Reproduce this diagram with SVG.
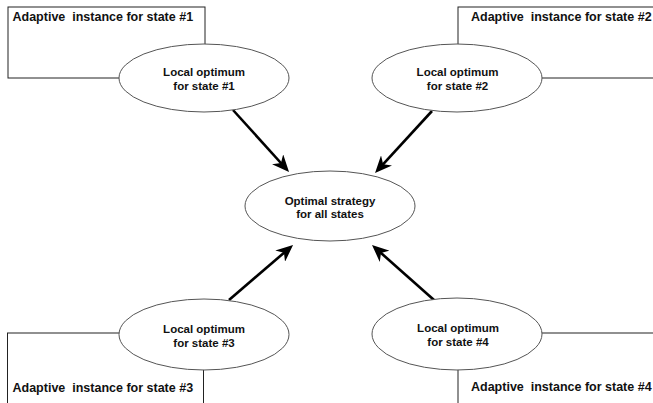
<svg xmlns="http://www.w3.org/2000/svg" width="653" height="403" viewBox="0 0 653 403">
<style>
.box{fill:none;stroke:#222;stroke-width:1}
.ell{fill:#fff;stroke:#555;stroke-width:1}
.t{font-family:"Liberation Sans",Arial,sans-serif;font-weight:bold;fill:#111}
.title{font-size:12.5px;white-space:pre}
.lbl{font-size:11.5px;text-anchor:middle}
.arr{stroke:#000;stroke-width:2.6;fill:none;marker-end:url(#ah)}
</style>
<defs>
<marker id="ah" markerUnits="userSpaceOnUse" markerWidth="17" markerHeight="15" viewBox="0 0 17 15" refX="11" refY="7.5" orient="auto">
<path d="M0,0 L17,7.5 L0,15 L5,7.5 z" fill="#000"/>
</marker>
</defs>
<rect width="653" height="403" fill="#fff"/>
<g id="box1"><rect class="box" x="8" y="7" width="197" height="71"/><text class="t title" x="12.5" y="21" xml:space="preserve">Adaptive  instance for state #1</text></g>
<g id="box2"><rect class="box" x="458" y="7" width="260" height="71"/><text class="t title" x="471" y="20.5" xml:space="preserve">Adaptive  instance for state #2</text></g>
<g id="box3"><rect class="box" x="7.5" y="333" width="196" height="120"/><text class="t title" x="12.5" y="391.5" xml:space="preserve">Adaptive  instance for state #3</text></g>
<g id="box4"><rect class="box" x="458" y="333" width="260" height="120"/><text class="t title" x="471" y="390.5" xml:space="preserve">Adaptive  instance for state #4</text></g>
<g id="connectors">
<line class="arr" x1="233" y1="110" x2="285" y2="167.5"/>
<line class="arr" x1="432" y1="111" x2="379.1" y2="168.6"/>
<line class="arr" x1="229" y1="300" x2="288.5" y2="248.9"/>
<line class="arr" x1="434" y1="300" x2="376.5" y2="249"/>
</g>
<g id="local1"><ellipse class="ell" cx="204" cy="78" rx="85" ry="34"/><text class="t lbl" x="204" y="76">Local optimum</text><text class="t lbl" x="204" y="90">for state #1</text></g>
<g id="local2"><ellipse class="ell" cx="457" cy="78" rx="85" ry="34"/><text class="t lbl" x="457.5" y="76">Local optimum</text><text class="t lbl" x="457.5" y="89.5">for state #2</text></g>
<g id="local3"><ellipse class="ell" cx="204" cy="334.5" rx="85" ry="35.5"/><text class="t lbl" x="204" y="332.5">Local optimum</text><text class="t lbl" x="204" y="346.5">for state #3</text></g>
<g id="local4"><ellipse class="ell" cx="457" cy="334" rx="85" ry="36"/><text class="t lbl" x="458" y="332">Local optimum</text><text class="t lbl" x="458" y="346">for state #4</text></g>
<g id="optimal"><ellipse class="ell" cx="330" cy="206" rx="85" ry="35"/><text class="t lbl" x="330" y="205">Optimal strategy</text><text class="t lbl" x="330" y="218">for all states</text></g>
</svg>
